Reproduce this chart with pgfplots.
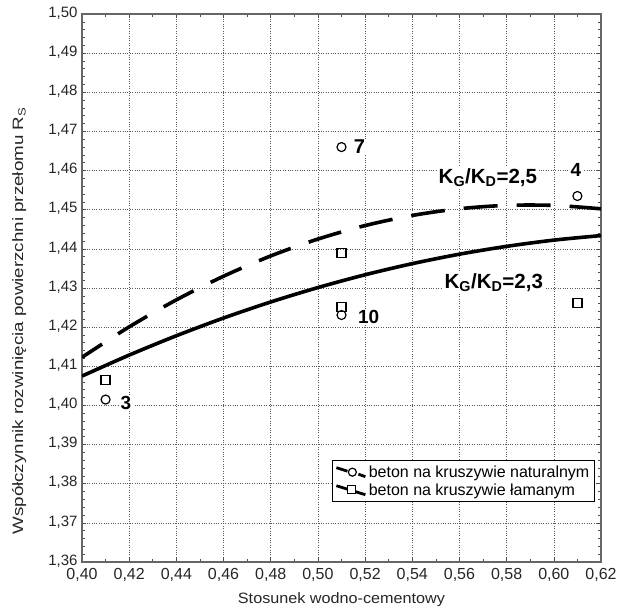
\documentclass[border=0pt]{standalone}
\usepackage{pgfplots}
\pgfplotsset{compat=1.18}
\usepackage{fontspec}
\setmainfont{Liberation Sans}
\begin{document}
\begin{tikzpicture}
\useasboundingbox (-82bp,-49bp) rectangle (541bp,562bp);
\begin{axis}[
  at={(0,0)}, anchor=south west,
  scale only axis, width=519bp, height=548bp,
  xmin=0.40, xmax=0.62, ymin=1.36, ymax=1.50,
  xtick={0.40,0.42,0.44,0.46,0.48,0.50,0.52,0.54,0.56,0.58,0.60,0.62},
  ytick={1.36,1.37,1.38,1.39,1.40,1.41,1.42,1.43,1.44,1.45,1.46,1.47,1.48,1.49,1.50},
  minor x tick num=1, minor y tick num=4,
  tick align=inside,
  major tick length=4bp, minor tick length=3bp,
  tick style={black!70, line width=0.6bp},
  grid=major,
  major grid style={dotted, black!65, line width=0.6bp},
  axis line style={black!60, line width=1.2bp},
  /pgf/number format/.cd, fixed, fixed zerofill, precision=2, use comma, assume math mode=true,
  /pgfplots/.cd,
  xticklabel style={font=\fontsize{16bp}{19bp}\selectfont, text=black!85, yshift=-3bp},
  yticklabel style={font=\fontsize{15bp}{18bp}\selectfont, text=black!85, xshift=-1bp, yshift=1bp},
  xlabel={\scalebox{1.08}[1]{Stosunek wodno-cementowy}},
  xlabel style={font=\fontsize{15bp}{18bp}\selectfont, text=black!85, at={(axis description cs:0.5,-0.0693)}, anchor=center},
  ylabel={\scalebox{1.25}[1]{Współczynnik rozwinięcia powierzchni przełomu R\textsubscript{S}}},
  ylabel style={font=\fontsize{15bp}{18bp}\selectfont, text=black!85, at={(axis description cs:-0.121,0.44)}, anchor=center, rotate=0},
  legend style={at={(axis cs:0.5058,1.386)}, anchor=north west, draw=black, line width=0.8bp,
    font=\fontsize{16bp}{20bp}\selectfont, row sep=1bp, inner sep=3bp, fill=white},
  legend cell align=left,
]
% smooth fitted curves
\addplot[black, line width=3.6bp, smooth, forget plot] coordinates {
 (0.40,1.40750) (0.42,1.41286) (0.44,1.41780) (0.46,1.42233) (0.48,1.42643) (0.50,1.43011)
 (0.52,1.43338) (0.54,1.43622) (0.56,1.43864) (0.58,1.44064) (0.60,1.44223) (0.62,1.44339)};
\addplot[black, line width=3.6bp, smooth, dash pattern=on 34bp off 19bp, dash phase=10bp, forget plot] coordinates {
 (0.40,1.41230) (0.42,1.42007) (0.44,1.42697) (0.46,1.43301) (0.48,1.43819) (0.50,1.44250)
 (0.52,1.44595) (0.54,1.44853) (0.56,1.45025) (0.58,1.45111) (0.60,1.45110) (0.62,1.45023)};
% data points
\addplot[only marks, mark=o, mark size=4.5bp, mark options={line width=1.2bp, fill=white, draw=black},
  legend image code/.code={
    \draw[line width=2.8bp] (0bp,4.5bp) -- (11bp,1bp);
    \draw[line width=2.8bp] (22bp,-2bp) -- (29bp,-4.5bp);
    \draw[line width=1.2bp, fill=white] (16bp,0bp) circle (4bp);}]
 coordinates {(0.41,1.4015) (0.51,1.4660) (0.51,1.4231) (0.61,1.4535)};
\addlegendentry{beton na kruszywie naturalnym}
\addplot[only marks, mark=square, mark size=4.5bp, mark options={line width=1.2bp, fill=white, draw=black},
  legend image code/.code={
    \draw[line width=2.8bp] (0bp,4.5bp) -- (29bp,-4.5bp);
    \draw[line width=1.2bp, fill=white] (11bp,-3.5bp) rectangle (19bp,4.5bp);}]
 coordinates {(0.41,1.4065) (0.51,1.4389) (0.51,1.4252) (0.61,1.4261)};
\addlegendentry{beton na kruszywie łamanym}
% labels
\node[font=\fontsize{20bp}{22bp}\selectfont\bfseries, fill=white, inner sep=1.5bp] at (axis cs:0.5176,1.4660) {7};
\node[font=\fontsize{19bp}{22bp}\selectfont\bfseries, fill=white, inner sep=1.5bp] at (axis cs:0.6094,1.4602) {4};
\node[font=\fontsize{19bp}{22bp}\selectfont\bfseries, fill=white, inner sep=1.5bp] at (axis cs:0.5215,1.4226) {10};
\node[font=\fontsize{19bp}{22bp}\selectfont\bfseries, fill=white, inner sep=1.5bp] at (axis cs:0.4186,1.4006) {3};
\node[font=\fontsize{20.5bp}{22bp}\selectfont\bfseries, fill=white, inner sep=1.5bp, anchor=base west] at (axis cs:0.5505,1.4568) {K\textsubscript{G}/K\textsubscript{D}=2,5};
\node[font=\fontsize{20.5bp}{22bp}\selectfont\bfseries, fill=white, inner sep=1.5bp, anchor=base west] at (axis cs:0.5530,1.4299) {K\textsubscript{G}/K\textsubscript{D}=2,3};
\end{axis}
\end{tikzpicture}
\end{document}
